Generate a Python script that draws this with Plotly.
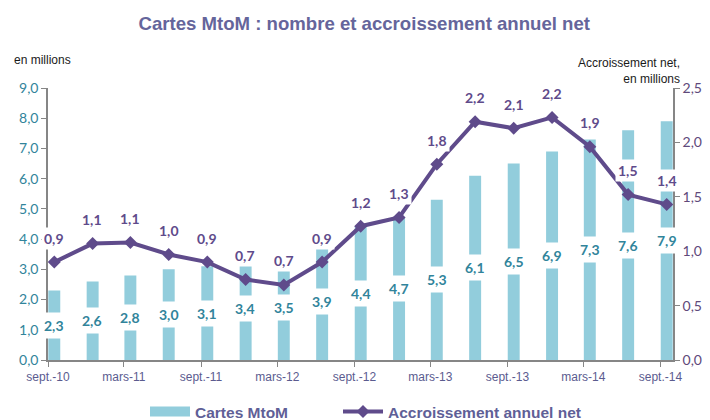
import plotly.graph_objects as go

# Data
dates = ["2010-09-01", "2010-12-01", "2011-03-01", "2011-06-01", "2011-09-01", "2011-12-01",
         "2012-03-01", "2012-06-01", "2012-09-01", "2012-12-01", "2013-03-01", "2013-06-01",
         "2013-09-01", "2013-12-01", "2014-03-01", "2014-06-01", "2014-09-01"]
cartes = [2.3, 2.6, 2.8, 3.0, 3.1, 3.4, 3.5, 3.9, 4.4, 4.7, 5.3, 6.1, 6.5, 6.9, 7.3, 7.6, 7.9]
accroissement = [0.90, 1.07, 1.08, 0.97, 0.90, 0.74, 0.69, 0.90, 1.23, 1.31, 1.80, 2.19, 2.13, 2.23, 1.96, 1.52, 1.43]
accroissement_labels = [0.9, 1.1, 1.1, 1.0, 0.9, 0.7, 0.7, 0.9, 1.2, 1.3, 1.8, 2.2, 2.1, 2.2, 1.9, 1.5, 1.4]
tick_dates = ["2010-09-01", "2011-03-01", "2011-09-01", "2012-03-01", "2012-09-01",
              "2013-03-01", "2013-09-01", "2014-03-01", "2014-09-01"]
tick_labels = ["sept.-10", "mars-11", "sept.-11", "mars-12", "sept.-12",
               "mars-13", "sept.-13", "mars-14", "sept.-14"]

BAR = "#92CDDC"
TEAL = "#31849B"
PURPLE = "#5F4B8B"
AXIS = "#868686"

W, H = 710, 420
ML, MR, MT, MB = 48, 37, 88, 60
PW, PH = W - ML - MR, H - MT - MB


def px_x(x):
    return (x - ML) / PW


def px_y(y):
    return (H - MB - y) / PH


def fmt(v):
    return f"{v:.1f}".replace(".", ",")


fig = go.Figure()
fig.add_trace(go.Bar(
    x=dates, y=cartes, name="Cartes MtoM", showlegend=False,
    marker=dict(color=BAR, line=dict(width=0)),
    xperiod="M1", xperiodalignment="middle",
    width=28.5 * 86400000, yaxis="y",
))
# legend entry for bars drawn as a wide swatch
fig.add_trace(go.Scatter(
    x=[None], y=[None], name="Cartes MtoM", mode="lines",
    line=dict(color=BAR, width=10), yaxis="y", legend="legend",
))
fig.add_trace(go.Scatter(
    x=dates, y=accroissement, name="Accroissement annuel net",
    mode="lines+markers", line=dict(color=PURPLE, width=4),
    marker=dict(symbol="diamond", size=10, color=PURPLE),
    xperiod="M1", xperiodalignment="middle", yaxis="y2", legend="legend2",
))

ann = []
for d, v in zip(dates, cartes):
    ann.append(dict(x=d[:8] + "16", y=v / 2, xref="x", yref="y", text=fmt(v), showarrow=False,
                    font=dict(family="Lato", size=14, color=TEAL, weight="bold"),
                    bgcolor="white", borderpad=4))
for d, v, l in zip(dates, accroissement, accroissement_labels):
    ann.append(dict(x=d[:8] + "16", y=v, xref="x", yref="y2", text=fmt(l), showarrow=False,
                    yshift=24, font=dict(family="Lato", size=14, color=PURPLE, weight="bold"),
                    bgcolor="white", borderpad=2))
ann.append(dict(x=px_x(12), y=px_y(60), xref="paper", yref="paper", text="en millions",
                showarrow=False, xanchor="left", yanchor="middle",
                font=dict(family="Liberation Sans", size=12, color="#1a1a1a")))
ann.append(dict(x=px_x(682), y=px_y(54), xref="paper", yref="paper",
                text="Accroissement net,<br>en millions", showarrow=False,
                xanchor="right", yanchor="top", align="right",
                font=dict(family="Liberation Sans", size=12, color="#1a1a1a")))

legend_font = dict(family="Liberation Sans", size=15.5, color="#5F5F97", weight="bold")

fig.update_layout(
    width=W, height=H,
    separators=", ",
    paper_bgcolor="white", plot_bgcolor="white",
    margin=dict(l=ML, r=MR, t=MT, b=MB, autoexpand=False),
    annotations=ann,
    title=dict(text="<b>Cartes MtoM : nombre et accroissement annuel net</b>",
               x=0.513, xanchor="center", y=1 - 23 / H, yanchor="middle",
               font=dict(family="Liberation Sans", size=18.6, color="#65659B")),
    showlegend=True,
    legend=dict(orientation="h", x=px_x(145), xanchor="left", y=px_y(412), yanchor="middle",
                font=legend_font, itemwidth=40),
    legend2=dict(orientation="h", x=px_x(338), xanchor="left", y=px_y(412), yanchor="middle",
                 font=legend_font, itemwidth=40),
    xaxis=dict(type="date", range=["2010-09-01", "2014-10-01"],
               tickvals=tick_dates, ticktext=tick_labels,
               showgrid=False, zeroline=False, showline=True, linecolor=AXIS, linewidth=1.5,
               ticks="outside", ticklen=5, tickcolor=AXIS,
               tickfont=dict(family="Liberation Sans", size=12, color="#5B5B8F")),
    yaxis=dict(range=[0, 9], dtick=1, tickformat=".1f", showgrid=False, zeroline=False,
               showline=True, linecolor=AXIS, linewidth=1.5, ticks="outside", ticklen=5,
               tickcolor=AXIS, tickfont=dict(family="Lato", size=14, color=TEAL)),
    yaxis2=dict(range=[0, 2.5], dtick=0.5, tickformat=".1f", overlaying="y", side="right",
                showgrid=False, zeroline=False, showline=True, linecolor=AXIS, linewidth=1.5,
                ticks="outside", ticklen=5, tickcolor=AXIS,
                tickfont=dict(family="Lato", size=14, color="#60497A")),
)

fig.write_html("out.html", config={"displayModeBar": False},
               post_script="document.body.style.margin='0px';document.body.style.overflow='hidden';")
